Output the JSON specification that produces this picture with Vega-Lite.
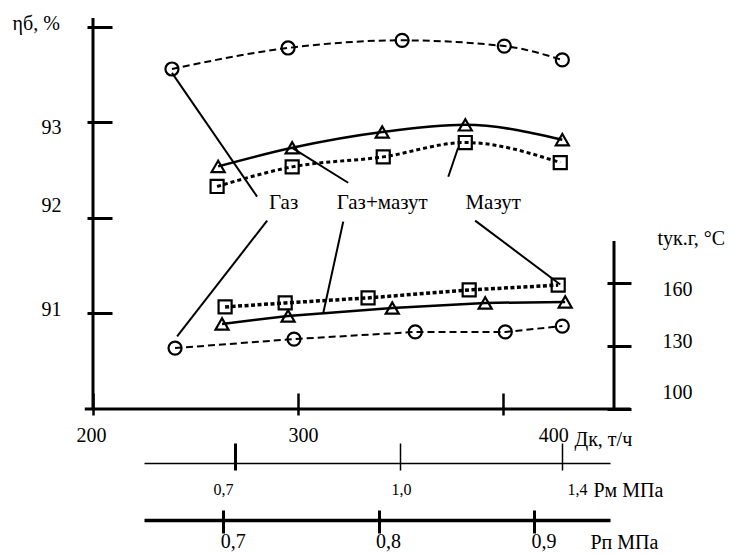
{
  "$schema": "https://vega.github.io/schema/vega-lite/v6.json",
  "width": 521,
  "height": 391,
  "autosize": {"type": "none"},
  "padding": {"left": 93, "top": 18, "right": 115, "bottom": 145},
  "background": "white",
  "config": {
    "view": {"stroke": null},
    "font": "Liberation Serif",
    "axis": {"grid": false, "domainColor": "black", "tickColor": "black", "labelColor": "black", "titleColor": "black", "labelFont": "Liberation Serif", "titleFont": "Liberation Serif", "titleFontWeight": "normal"}
  },
  "datasets": {
    "etaPts": [
      {"s": "Газ", "Dk": 238.5, "eta": 93.56}, {"s": "Газ", "Dk": 295.1, "eta": 93.78}, {"s": "Газ", "Dk": 350.7, "eta": 93.86}, {"s": "Газ", "Dk": 400.5, "eta": 93.8}, {"s": "Газ", "Dk": 428.8, "eta": 93.655},
      {"s": "Газ+мазут", "Dk": 261.0, "eta": 92.54}, {"s": "Газ+мазут", "Dk": 297.1, "eta": 92.735}, {"s": "Газ+мазут", "Dk": 341.0, "eta": 92.9}, {"s": "Газ+мазут", "Dk": 381.5, "eta": 92.975}, {"s": "Газ+мазут", "Dk": 428.8, "eta": 92.82},
      {"s": "Мазут", "Dk": 260.5, "eta": 92.33}, {"s": "Мазут", "Dk": 297.1, "eta": 92.535}, {"s": "Мазут", "Dk": 341.5, "eta": 92.64}, {"s": "Мазут", "Dk": 381.5, "eta": 92.79}, {"s": "Мазут", "Dk": 427.8, "eta": 92.58}
    ],
    "tPts": [
      {"s": "Газ", "Dk": 240.0, "t": 129.0}, {"s": "Газ", "Dk": 298.0, "t": 133.3}, {"s": "Газ", "Dk": 357.1, "t": 136.7}, {"s": "Газ", "Dk": 401.0, "t": 136.7}, {"s": "Газ", "Dk": 428.8, "t": 139.5},
      {"s": "Газ+мазут", "Dk": 262.9, "t": 140.5}, {"s": "Газ+мазут", "Dk": 295.1, "t": 144.3}, {"s": "Газ+мазут", "Dk": 345.9, "t": 148.1}, {"s": "Газ+мазут", "Dk": 391.2, "t": 150.5}, {"s": "Газ+мазут", "Dk": 430.2, "t": 151.0},
      {"s": "Мазут", "Dk": 264.4, "t": 148.6}, {"s": "Мазут", "Dk": 293.7, "t": 150.5}, {"s": "Мазут", "Dk": 334.1, "t": 152.9}, {"s": "Мазут", "Dk": 383.4, "t": 156.7}, {"s": "Мазут", "Dk": 426.8, "t": 159.0}
    ],
    "leaders": [
      {"Dk": 238.5, "eta": 93.519, "Dk2": 280.0, "eta2": 92.223},
      {"Dk": 297.1, "eta": 92.735, "Dk2": 324.4, "eta2": 92.369},
      {"Dk": 378.0, "eta": 92.735, "Dk2": 373.2, "eta2": 92.432},
      {"Dk": 284.9, "eta": 91.972, "Dk2": 241.0, "eta2": 90.76},
      {"Dk": 322.0, "eta": 91.962, "Dk2": 312.2, "eta2": 91.0},
      {"Dk": 386.3, "eta": 91.972, "Dk2": 427.8, "eta2": 91.303}
    ],
    "labels": [
      {"txt": "Газ", "Dk": 292.9, "eta": 92.16},
      {"txt": "Газ+мазут", "Dk": 341.0, "eta": 92.16},
      {"txt": "Мазут", "Dk": 395.1, "eta": 92.16}
    ],
    "pm": [{"p": 0.7}, {"p": 1.0}, {"p": 1.4}],
    "pp": [{"p": 0.7}, {"p": 0.8}, {"p": 0.9}]
  },
  "layer": [
    {
      "layer": [
        {
          "layer": [
            {
              "data": {"values": [{}]},
              "mark": {"type": "rule", "color": "black", "strokeWidth": 3},
              "encoding": {
                "x": {
                  "datum": 200, "type": "quantitative",
                  "scale": {"domain": [200, 454], "nice": false, "zero": false},
                  "axis": {
                    "orient": "bottom", "offset": -16, "domain": false, "values": [200, 300, 400],
                    "tickSize": 22, "tickWidth": 2.5, "labelFontSize": 20, "labelPadding": 10,
                    "labelFont": "Liberation Serif", "titleFont": "Liberation Serif",
                    "labelExpr": "format(datum.value, 'd')",
                    "labelAlign": {"condition": {"test": "datum.value == 400", "value": "left"}, "value": "center"},
                    "labelOffset": {"condition": [{"test": "datum.value == 400", "value": 35}, {"test": "datum.value == 300", "value": 5}], "value": -2},
                    "title": "Дк, т/ч", "titleFontSize": 20, "titleX": 481, "titleY": 46, "titleAlign": "left", "titleBaseline": "middle"
                  }
                }
              }
            },
            {
              "data": {"values": [{}]},
              "mark": {"type": "rule", "color": "black", "strokeWidth": 3},
              "encoding": {
                "x": {"datum": 196, "type": "quantitative", "scale": {"domain": [200, 454], "nice": false, "zero": false}},
                "x2": {"datum": 462},
                "y": {
                  "datum": 90, "type": "quantitative",
                  "scale": {"domain": [90, 94.094], "nice": false, "zero": false},
                  "axis": {
                    "orient": "left", "offset": -19, "domain": false, "values": [91, 92, 93, 94],
                    "tickSize": 25, "tickWidth": 3, "labelFontSize": 20, "labelPadding": 26,
                    "labelFont": "Liberation Serif", "titleFont": "Liberation Serif",
                    "labelExpr": "datum.value == 94 ? '' : format(datum.value, 'd')",
                    "labelOffset": {"condition": [{"test": "datum.value == 93", "value": 5}, {"test": "datum.value == 92", "value": -12}], "value": -4},
                    "title": "ηб, %", "titleFontSize": 20, "titleAngle": 0, "titleX": -100, "titleY": 5, "titleAlign": "left", "titleBaseline": "middle"
                  }
                }
              }
            },
            {
              "data": {"name": "etaPts"},
              "transform": [{"filter": "datum.s == 'Газ'"}],
              "mark": {"type": "line", "color": "black", "strokeWidth": 2, "strokeDash": [7, 4], "interpolate": "monotone"},
              "encoding": {
                "x": {"field": "Dk", "type": "quantitative", "scale": {"domain": [200, 454], "nice": false, "zero": false}},
                "y": {"field": "eta", "type": "quantitative", "scale": {"domain": [90, 94.094], "nice": false, "zero": false}}
              }
            },
            {
              "data": {"name": "etaPts"},
              "transform": [{"filter": "datum.s == 'Газ+мазут'"}],
              "mark": {"type": "line", "color": "black", "strokeWidth": 2.5, "interpolate": "monotone"},
              "encoding": {
                "x": {"field": "Dk", "type": "quantitative", "scale": {"domain": [200, 454], "nice": false, "zero": false}},
                "y": {"field": "eta", "type": "quantitative", "scale": {"domain": [90, 94.094], "nice": false, "zero": false}}
              }
            },
            {
              "data": {"name": "etaPts"},
              "transform": [{"filter": "datum.s == 'Мазут'"}],
              "mark": {"type": "line", "color": "black", "strokeWidth": 3, "strokeDash": [4, 3], "interpolate": "monotone"},
              "encoding": {
                "x": {"field": "Dk", "type": "quantitative", "scale": {"domain": [200, 454], "nice": false, "zero": false}},
                "y": {"field": "eta", "type": "quantitative", "scale": {"domain": [90, 94.094], "nice": false, "zero": false}}
              }
            },
            {
              "data": {"name": "etaPts"},
              "mark": {"type": "point", "filled": false, "color": "black", "strokeWidth": 2.2, "size": 170, "opacity": 1},
              "encoding": {
                "x": {"field": "Dk", "type": "quantitative", "scale": {"domain": [200, 454], "nice": false, "zero": false}},
                "y": {"field": "eta", "type": "quantitative", "scale": {"domain": [90, 94.094], "nice": false, "zero": false}},
                "shape": {"field": "s", "type": "nominal", "scale": {"domain": ["Газ", "Газ+мазут", "Мазут"], "range": ["circle", "triangle-up", "square"]}, "legend": null}
              }
            },
            {
              "data": {"name": "leaders"},
              "mark": {"type": "rule", "color": "black", "strokeWidth": 2},
              "encoding": {
                "x": {"field": "Dk", "type": "quantitative", "scale": {"domain": [200, 454], "nice": false, "zero": false}},
                "x2": {"field": "Dk2"},
                "y": {"field": "eta", "type": "quantitative", "scale": {"domain": [90, 94.094], "nice": false, "zero": false}},
                "y2": {"field": "eta2"}
              }
            },
            {
              "data": {"name": "labels"},
              "mark": {"type": "text", "font": "Liberation Serif", "fontSize": 21, "color": "black", "align": "center", "baseline": "middle"},
              "encoding": {
                "x": {"field": "Dk", "type": "quantitative", "scale": {"domain": [200, 454], "nice": false, "zero": false}},
                "y": {"field": "eta", "type": "quantitative", "scale": {"domain": [90, 94.094], "nice": false, "zero": false}},
                "text": {"field": "txt"}
              }
            }
          ]
        },
        {
          "layer": [
            {
              "data": {"values": [{}]},
              "mark": {"type": "rule", "color": "black", "strokeWidth": 3},
              "encoding": {
                "x": {"datum": 454, "type": "quantitative", "scale": {"domain": [200, 454], "nice": false, "zero": false}},
                "y": {
                  "datum": 100, "type": "quantitative",
                  "scale": {"domain": [100, 286.19], "nice": false, "zero": false},
                  "axis": {
                    "orient": "right", "offset": -7, "domain": false, "values": [100, 130, 160],
                    "tickSize": 24, "tickWidth": 3, "labelFontSize": 20, "labelPadding": 31,
                    "labelFont": "Liberation Serif", "titleFont": "Liberation Serif",
                    "labelExpr": "format(datum.value, 'd')",
                    "labelOffset": {"condition": [{"test": "datum.value == 160", "value": 7}, {"test": "datum.value == 100", "value": -17}], "value": -4},
                    "title": "tук.г, °C", "titleFontSize": 20, "titleAngle": 0, "titleX": 50, "titleY": 220, "titleAlign": "left", "titleBaseline": "middle"
                  }
                },
                "y2": {"datum": 180}
              }
            },
            {
              "data": {"name": "tPts"},
              "transform": [{"filter": "datum.s == 'Газ'"}],
              "mark": {"type": "line", "color": "black", "strokeWidth": 2, "strokeDash": [7, 4]},
              "encoding": {
                "x": {"field": "Dk", "type": "quantitative", "scale": {"domain": [200, 454], "nice": false, "zero": false}},
                "y": {"field": "t", "type": "quantitative", "scale": {"domain": [100, 286.19], "nice": false, "zero": false}}
              }
            },
            {
              "data": {"name": "tPts"},
              "transform": [{"filter": "datum.s == 'Газ+мазут'"}],
              "mark": {"type": "line", "color": "black", "strokeWidth": 2.5},
              "encoding": {
                "x": {"field": "Dk", "type": "quantitative", "scale": {"domain": [200, 454], "nice": false, "zero": false}},
                "y": {"field": "t", "type": "quantitative", "scale": {"domain": [100, 286.19], "nice": false, "zero": false}}
              }
            },
            {
              "data": {"name": "tPts"},
              "transform": [{"filter": "datum.s == 'Мазут'"}],
              "mark": {"type": "line", "color": "black", "strokeWidth": 3.5, "strokeDash": [4, 2.5]},
              "encoding": {
                "x": {"field": "Dk", "type": "quantitative", "scale": {"domain": [200, 454], "nice": false, "zero": false}},
                "y": {"field": "t", "type": "quantitative", "scale": {"domain": [100, 286.19], "nice": false, "zero": false}}
              }
            },
            {
              "data": {"name": "tPts"},
              "mark": {"type": "point", "filled": false, "color": "black", "strokeWidth": 2.2, "size": 170, "opacity": 1},
              "encoding": {
                "x": {"field": "Dk", "type": "quantitative", "scale": {"domain": [200, 454], "nice": false, "zero": false}},
                "y": {"field": "t", "type": "quantitative", "scale": {"domain": [100, 286.19], "nice": false, "zero": false}},
                "shape": {"field": "s", "type": "nominal", "scale": {"domain": ["Газ", "Газ+мазут", "Мазут"], "range": ["circle", "triangle-up", "square"]}, "legend": null}
              }
            }
          ]
        }
      ],
      "resolve": {"scale": {"y": "independent"}, "axis": {"y": "independent"}}
    },
    {
      "data": {"name": "pm"},
      "mark": {"type": "point", "opacity": 0},
      "encoding": {
        "x": {
          "field": "p", "type": "quantitative",
          "scale": {"domain": [0.535, 0.7, 1.0, 1.4, 1.519], "range": [51, 142, 307, 469, 517], "nice": false, "zero": false},
          "axis": {
            "orient": "bottom", "offset": 34, "domain": false, "values": [0.7, 1.0, 1.4],
            "tickSize": 27, "tickWidth": {"condition": {"test": "datum.value == 0.7", "value": 3}, "value": 1.5},
            "labelFontSize": 16, "labelPadding": 11,
            "labelFont": "Liberation Serif", "titleFont": "Liberation Serif",
            "labelExpr": "replace(format(datum.value, '.1f'), '.', ',')",
            "labelAlign": {"condition": {"test": "datum.value == 1.4", "value": "left"}, "value": "center"},
            "labelOffset": {"condition": [{"test": "datum.value == 0.7", "value": -12}, {"test": "datum.value == 1.4", "value": 5}], "value": 1},
            "title": "Рм МПа", "titleFontSize": 20, "titleX": 500, "titleY": 47, "titleAlign": "left", "titleBaseline": "middle"
          }
        }
      }
    },
    {
      "data": {"name": "pm"},
      "mark": {"type": "point", "opacity": 0},
      "encoding": {
        "x": {
          "field": "p", "type": "quantitative",
          "scale": {"domain": [0.535, 0.7, 1.0, 1.4, 1.519], "range": [51, 142, 307, 469, 517], "nice": false, "zero": false},
          "axis": {"orient": "bottom", "offset": 54, "domain": true, "domainWidth": 1.5, "ticks": false, "labels": false, "title": null}
        }
      }
    },
    {
      "data": {"name": "pp"},
      "mark": {"type": "point", "opacity": 0},
      "encoding": {
        "x": {
          "field": "p", "type": "quantitative",
          "scale": {"domain": [0.649, 0.949], "range": [51, 517], "nice": false, "zero": false},
          "axis": {
            "orient": "bottom", "offset": 101, "domain": false, "values": [0.7, 0.8, 0.9],
            "tickSize": 23, "tickWidth": 3,
            "labelFontSize": 20, "labelPadding": -2,
            "labelFont": "Liberation Serif", "titleFont": "Liberation Serif",
            "labelExpr": "replace(format(datum.value, '.1f'), '.', ',')",
            "labelAlign": "left", "labelOffset": -3,
            "title": "Рп МПа", "titleFontSize": 20, "titleX": 497, "titleY": 32, "titleAlign": "left", "titleBaseline": "middle"
          }
        }
      }
    },
    {
      "data": {"name": "pp"},
      "mark": {"type": "point", "opacity": 0},
      "encoding": {
        "x": {
          "field": "p", "type": "quantitative",
          "scale": {"domain": [0.649, 0.949], "range": [51, 517], "nice": false, "zero": false},
          "axis": {"orient": "bottom", "offset": 111, "domain": true, "domainWidth": 3.5, "ticks": false, "labels": false, "title": null}
        }
      }
    }
  ],
  "resolve": {"scale": {"x": "independent"}, "axis": {"x": "independent"}}
}
